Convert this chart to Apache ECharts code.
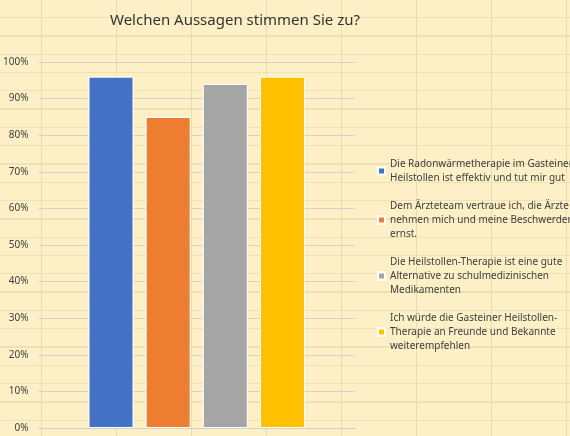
<!DOCTYPE html>
<html>
<head>
<meta charset="utf-8">
<script src="https://cdn.jsdelivr.net/npm/echarts@6/dist/echarts.min.js"></script>
<style>
  html, body { margin: 0; padding: 0; }
  body {
    width: 570px; height: 436px;
    background-color: #fdf0c6;
    background-image:
      repeating-linear-gradient(to right, transparent 0, transparent 41px, #e9dcb0 41px, #e9dcb0 42px, transparent 42px, transparent 75px),
      repeating-linear-gradient(to bottom, transparent 0, transparent 17px, #eee1b6 17px, #eee1b6 18.3px);
  }
  #chart { width: 570px; height: 436px; }
</style>
</head>
<body>
<div id="chart"></div>
<script>
// Antworten (Anteil Zustimmung in %)
var seriesNames = [
  'Die Radonwärmetherapie im Gasteiner\nHeilstollen ist effektiv und tut mir gut',
  'Dem Ärzteteam vertraue ich, die Ärzte\nnehmen mich und meine Beschwerden\nernst.',
  'Die Heilstollen-Therapie ist eine gute\nAlternative zu schulmedizinischen\nMedikamenten',
  'Ich würde die Gasteiner Heilstollen-\nTherapie an Freunde und Bekannte\nweiterempfehlen'
];
var values = [96, 85, 94, 96];
var colors = ['#4472c4', '#ed7d31', '#a5a5a5', '#ffc000'];

var chart = echarts.init(document.getElementById('chart'));

var series = seriesNames.map(function (name, i) {
  return {
    name: name,
    type: 'bar',
    data: [values[i]],
    barWidth: 45,
    barGap: '27%',
    itemStyle: { color: colors[i], borderColor: '#fff', borderWidth: 1 }
  };
});

chart.setOption({
  backgroundColor: 'transparent',
  color: colors,
  title: {
    text: 'Welchen Aussagen stimmen Sie zu?',
    left: 230, top: 8, textAlign: 'center',
    textStyle: { fontFamily: 'Noto Sans', fontSize: 15, fontWeight: 'normal', color: '#333' }
  },
  grid: { left: 37, right: 215, top: 62, bottom: 8, containLabel: false },
  legend: {
    orient: 'vertical',
    left: 372, top: 152,
    itemWidth: 7, itemHeight: 7, itemGap: 14,
    icon: 'rect',
    align: 'left',
    textStyle: { fontFamily: 'Noto Sans', fontSize: 10, color: '#404040', lineHeight: 14 },
    data: seriesNames
  },
  xAxis: {
    type: 'category', data: [''],
    axisLine: { lineStyle: { color: '#d0d0d0' } },
    axisTick: { show: false }, axisLabel: { show: false }
  },
  yAxis: {
    type: 'value', min: 0, max: 100, interval: 10,
    axisLabel: { formatter: '{value}%', fontFamily: 'Noto Sans', fontSize: 10, color: '#404040', margin: 10 },
    splitLine: { lineStyle: { color: '#d6d2c4' } },
    axisLine: { show: false }, axisTick: { show: false }
  },
  series: series
});
</script>
</body>
</html>
